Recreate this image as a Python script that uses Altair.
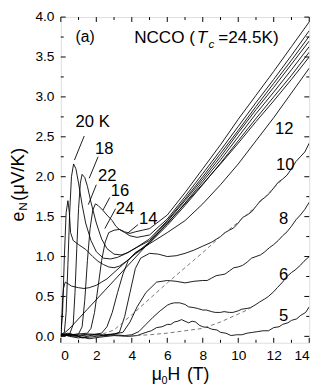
import altair as alt
import pandas as pd

FONT = "Liberation Sans"

# ---------------- data ----------------
H_5 = [0, 0.4, 1.0, 1.6, 2.2, 3.0, 3.8, 4.3, 4.8, 5.1, 5.4, 5.7, 6.0, 6.2, 6.4, 6.6, 6.8, 7.0, 7.2, 7.4, 7.6, 7.8, 8.0, 8.3, 8.5, 8.8, 9.0, 9.3, 9.6, 9.9, 10.2, 10.5, 10.8, 11.1, 11.4, 11.7, 12.0, 12.3, 12.5, 12.8, 13.0, 13.3, 13.5, 13.8, 14.0]
E_5 = [0.02, 0.04, 0.0, -0.03, -0.01, 0.01, 0.0, 0.01, 0.05, 0.07, 0.11, 0.12, 0.15, 0.15, 0.18, 0.19, 0.21, 0.19, 0.17, 0.19, 0.18, 0.14, 0.12, 0.11, 0.09, 0.08, 0.05, 0.04, 0.01, 0.02, 0.02, 0.04, 0.05, 0.06, 0.07, 0.07, 0.11, 0.12, 0.15, 0.17, 0.2, 0.22, 0.26, 0.3, 0.37]

H_6 = [0, 0.6, 1.2, 2.0, 3.0, 3.6, 4.0, 4.4, 4.8, 5.2, 5.6, 6.0, 6.2, 6.4, 6.7, 7.0, 7.2, 7.5, 7.7, 8.0, 8.2, 8.5, 8.7, 9.0, 9.2, 9.5, 9.7, 10.0, 10.2, 10.5, 10.7, 11.0, 11.2, 11.5, 11.7, 12.0, 12.2, 12.5, 12.7, 13.0, 13.2, 13.5, 13.7, 14.0]
E_6 = [0.01, 0.03, -0.02, 0.0, 0.02, 0.01, 0.02, 0.06, 0.15, 0.24, 0.32, 0.39, 0.41, 0.42, 0.42, 0.4, 0.37, 0.36, 0.35, 0.33, 0.33, 0.31, 0.3, 0.3, 0.31, 0.3, 0.3, 0.32, 0.34, 0.35, 0.36, 0.4, 0.43, 0.47, 0.5, 0.56, 0.61, 0.68, 0.74, 0.8, 0.83, 0.89, 0.94, 1.0]

H_8 = [0, 0.8, 1.6, 2.4, 3.0, 3.5, 3.9, 4.3, 4.8, 5.4, 6.0, 6.5, 7.0, 7.5, 8.0, 8.25, 8.5, 8.75, 9.0, 9.25, 9.5, 9.75, 10.0, 10.25, 10.5, 10.75, 11.0, 11.25, 11.5, 11.75, 12.0, 12.25, 12.5, 12.75, 13.0, 13.25, 13.5, 13.75, 14.0]
E_8 = [0.03, 0.01, 0.03, 0.02, 0.03, 0.05, 0.18, 0.37, 0.55, 0.68, 0.7, 0.69, 0.67, 0.69, 0.7, 0.7, 0.73, 0.76, 0.77, 0.78, 0.82, 0.86, 0.87, 0.89, 0.93, 0.98, 1.0, 1.02, 1.06, 1.11, 1.15, 1.2, 1.26, 1.31, 1.38, 1.46, 1.52, 1.59, 1.68]

H_10 = [0, 0.8, 1.6, 2.4, 3.0, 3.3, 3.6, 3.9, 4.2, 4.5, 5.0, 5.5, 6.0, 6.5, 7.0, 7.5, 8.0, 8.5, 9.0, 9.25, 9.5, 9.75, 10.0, 10.25, 10.5, 10.75, 11.0, 11.25, 11.5, 11.75, 12.0, 12.25, 12.5, 12.75, 13.0, 13.25, 13.5, 13.75, 14.0]
E_10 = [0.02, 0.0, 0.02, 0.01, 0.03, 0.05, 0.25, 0.55, 0.85, 0.98, 1.04, 1.03, 1.0, 1.01, 1.04, 1.08, 1.13, 1.18, 1.25, 1.3, 1.33, 1.36, 1.42, 1.49, 1.52, 1.56, 1.63, 1.7, 1.74, 1.79, 1.86, 1.93, 1.97, 2.02, 2.1, 2.19, 2.25, 2.31, 2.42]

H_12 = [0, 0.5, 1.0, 1.5, 2.0, 2.3, 2.6, 2.9, 3.2, 3.5, 3.8, 4.2, 4.6, 5, 6, 7, 8, 9, 10, 11, 12, 13, 14]
E_12 = [0.03, 0.0, -0.02, 0.0, 0.03, 0.04, 0.12, 0.3, 0.55, 0.78, 0.95, 1.05, 1.1, 1.16, 1.3, 1.45, 1.66, 1.9, 2.16, 2.45, 2.74, 3.05, 3.36]

H_14 = [0, 0.5, 1.0, 1.5, 1.7, 1.9, 2.1, 2.3, 2.5, 2.7, 3.0, 3.3, 3.6, 3.9, 4.2, 4.6, 5, 6, 7, 8, 9, 10, 11, 12, 13, 14]
E_14 = [0.02, 0.01, 0.03, 0.04, 0.1, 0.3, 0.62, 0.95, 1.18, 1.3, 1.33, 1.34, 1.31, 1.29, 1.31, 1.33, 1.35, 1.52, 1.8, 2.1, 2.4, 2.72, 3.02, 3.32, 3.63, 3.94]

H_16 = [0, 0.5, 1.0, 1.2, 1.35, 1.5, 1.65, 1.8, 1.95, 2.1, 2.37, 2.6, 2.9, 3.1, 3.3, 3.6, 3.9, 4.3, 5, 6, 7, 8, 9, 10, 11, 12, 13, 14]
E_16 = [0.01, 0.02, 0.03, 0.12, 0.45, 0.95, 1.35, 1.58, 1.66, 1.64, 1.58, 1.52, 1.45, 1.38, 1.34, 1.3, 1.26, 1.24, 1.27, 1.47, 1.75, 2.04, 2.33, 2.63, 2.93, 3.22, 3.52, 3.83]

H_18 = [0, 0.5, 0.7, 0.8, 0.9, 1.0, 1.1, 1.2, 1.35, 1.5, 1.7, 2.0, 2.3, 2.6, 3.0, 3.4, 3.8, 4.3, 5, 6, 7, 8, 9, 10, 11, 12, 13, 14]
E_18 = [0.02, 0.03, 0.15, 0.55, 1.1, 1.6, 1.92, 2.03, 1.99, 1.88, 1.68, 1.42, 1.22, 1.1, 1.03, 1.02, 1.05, 1.12, 1.22, 1.45, 1.72, 2.0, 2.29, 2.58, 2.88, 3.17, 3.46, 3.76]

H_20 = [0, 0.2, 0.3, 0.4, 0.5, 0.6, 0.72, 0.85, 1.0, 1.2, 1.4, 1.7, 2.0, 2.4, 2.8, 3.2, 3.6, 4.0, 4.5, 5, 6, 7, 8, 9, 10, 11, 12, 13, 14]
E_20 = [0.02, 0.05, 0.3, 0.9, 1.55, 2.0, 2.16, 2.1, 1.92, 1.65, 1.42, 1.2, 1.06, 0.98, 0.97, 0.99, 1.03, 1.08, 1.14, 1.2, 1.44, 1.7, 1.97, 2.25, 2.55, 2.84, 3.12, 3.41, 3.7]

H_22 = [0, 0.1, 0.2, 0.3, 0.4, 0.48, 0.55, 0.7, 1.0, 1.4, 1.8, 2.1, 2.4, 2.7, 3.0, 3.3, 3.7, 4.2, 5, 6, 7, 8, 9, 10, 11, 12, 13, 14]
E_22 = [0.0, 0.3, 1.0, 1.55, 1.7, 1.55, 1.3, 1.2, 1.15, 1.09, 1.0, 0.94, 0.9, 0.87, 0.86, 0.88, 0.94, 1.04, 1.18, 1.41, 1.67, 1.94, 2.21, 2.5, 2.79, 3.06, 3.34, 3.63]

H_24 = [0, 0.05, 0.1, 0.15, 0.25, 0.4, 0.6, 0.8, 1.0, 1.3, 1.6, 2.0, 2.3, 2.6, 3.0, 3.5, 4.0, 4.5, 5, 6, 7, 8, 9, 10, 11, 12, 13, 14]
E_24 = [0.0, 0.2, 0.45, 0.6, 0.68, 0.66, 0.63, 0.62, 0.61, 0.6, 0.61, 0.64, 0.68, 0.72, 0.8, 0.9, 1.0, 1.08, 1.17, 1.39, 1.64, 1.9, 2.17, 2.45, 2.73, 3.0, 3.27, 3.56]

H_hi = [0, 0.5, 1, 1.5, 2, 2.5, 3, 3.5, 4, 4.5, 5, 6, 7, 8, 9, 10, 11, 12, 13, 14]
E_hi = [0.0, 0.1, 0.22, 0.34, 0.46, 0.58, 0.7, 0.82, 0.94, 1.06, 1.18, 1.42, 1.66, 1.91, 2.16, 2.42, 2.69, 2.95, 3.22, 3.5]

# dashed background curves
H_dA = [2.0, 3.0, 4.0, 5.0, 6.0, 7.0, 8.0, 9.0, 10.0, 11.0, 12.0, 12.5]
E_dA = [0.0, 0.08, 0.27, 0.47, 0.67, 0.86, 1.05, 1.25, 1.43, 1.63, 1.86, 1.97]
H_dB = [3.5, 5.0, 6.0, 7.0, 8.0, 9.0, 9.5, 10.0, 10.5, 10.9]
E_dB = [0.0, 0.02, 0.04, 0.07, 0.1, 0.18, 0.23, 0.28, 0.33, 0.39]

# curve labels
LBL_T = ["20 K", "18", "22", "16", "24", "14", "12", "10", "8", "6", "5"]
LBL_H = [0.83, 1.93, 2.09, 2.81, 3.09, 4.41, 12.07, 12.13, 12.29, 12.29, 12.29]
LBL_E = [2.62, 2.28, 1.95, 1.76, 1.535, 1.41, 2.53, 2.08, 1.41, 0.71, 0.19]

# leader lines
LD_H1 = [1.32, 2.10, 2.00, 2.76, 3.09, 4.35]
LD_E1 = [2.51, 2.25, 1.90, 1.74, 1.60, 1.40]
LD_H2 = [0.77, 1.60, 1.55, 2.37, 2.48, 3.75]
LD_E2 = [2.21, 1.98, 1.65, 1.58, 1.35, 1.29]

X_TICKS = [0, 2, 4, 6, 8, 10, 12, 14]
X_MINOR = [1, 3, 5, 7, 9, 11, 13]
Y_TICKS = [0.0, 0.5, 1.0, 1.5, 2.0, 2.5, 3.0, 3.5, 4.0]
Y_MINOR = [0.25, 0.75, 1.25, 1.75, 2.25, 2.75, 3.25, 3.75]

# ---------------- build tables ----------------
curves = [("5", H_5, E_5), ("6", H_6, E_6), ("8", H_8, E_8), ("10", H_10, E_10),
          ("12", H_12, E_12), ("14", H_14, E_14), ("16", H_16, E_16), ("18", H_18, E_18),
          ("20", H_20, E_20), ("22", H_22, E_22), ("24", H_24, E_24), ("hi", H_hi, E_hi)]
rows = []
for name, hs, es in curves:
    for i, (h, e) in enumerate(zip(hs, es)):
        rows.append({"curve": name, "i": i, "H": h, "e": e})
df = pd.DataFrame(rows)

drows = []
for name, hs, es in [("A", H_dA, E_dA), ("B", H_dB, E_dB)]:
    for i, (h, e) in enumerate(zip(hs, es)):
        drows.append({"curve": name, "i": i, "H": h, "e": e})
ddf = pd.DataFrame(drows)

lbl = pd.DataFrame({"t": LBL_T, "H": LBL_H, "e": LBL_E})
lead = pd.DataFrame({"H1": LD_H1, "e1": LD_E1, "H2": LD_H2, "e2": LD_E2})

W, HT = 254, 333
xs = alt.Scale(domain=[0, 14], nice=False, zero=False)
ys = alt.Scale(domain=[-0.08, 4.0], nice=False, zero=False)

x_axis = alt.Axis(values=X_TICKS, format="d", title=None, ticks=False, domain=False, grid=False,
                  labelFont=FONT, labelFontSize=14, labelPadding=6, labelColor="black")
y_axis = alt.Axis(values=Y_TICKS, format=".1f", title=None, ticks=False, domain=False, grid=False,
                  labelFont=FONT, labelFontSize=14, labelPadding=7, labelColor="black")


def X(f):
    return alt.X(f, scale=xs, axis=x_axis)


def Y(f):
    return alt.Y(f, scale=ys, axis=y_axis)


lines = alt.Chart(df).mark_line(color="black", strokeWidth=0.9, clip=True).encode(
    x=X("H:Q"), y=Y("e:Q"), detail="curve:N", order="i:Q",
)

dashed = alt.Chart(ddf).mark_line(color="#666666", strokeWidth=0.9, strokeDash=[4, 3], clip=True).encode(
    x=X("H:Q"), y=Y("e:Q"), detail="curve:N", order="i:Q",
)

labels = alt.Chart(lbl).mark_text(align="left", baseline="alphabetic", font=FONT, fontSize=17,
                                  color="black").encode(
    x=X("H:Q"), y=Y("e:Q"), text="t:N",
)

leaders = alt.Chart(lead).mark_rule(color="black", strokeWidth=0.9).encode(
    x=X("H1:Q"), y=Y("e1:Q"), x2="H2:Q", y2="e2:Q",
)

# NCCO (T_c=24.5K) and (a)
TT_T = ["(a)", "NCCO (", "T", "c", "=24.5K)"]
TT_H = [0.83, 4.134, 7.66, 8.32, 8.875]
TT_E = [3.69, 3.674, 3.674, 3.61, 3.674]
TT_FS = [16, 17.5, 17.5, 12, 17.5]
TT_ST = ["normal", "normal", "italic", "italic", "normal"]
ttl_layers = []
for t, h, e, fs, st in zip(TT_T, TT_H, TT_E, TT_FS, TT_ST):
    ttl_layers.append(
        alt.Chart(pd.DataFrame({"t": [t], "H": [h], "e": [e]})).mark_text(
            align="left", baseline="alphabetic", font=FONT, fontSize=fs, fontStyle=st, color="black"
        ).encode(x=X("H:Q"), y=Y("e:Q"), text="t:N")
    )


# inward tick marks
def yticks(vals, ln):
    d = pd.DataFrame({"v": vals})
    left = alt.Chart(d).mark_rule(color="black", strokeWidth=1).encode(
        y=Y("v:Q"), x=alt.value(0), x2=alt.value(ln))
    right = alt.Chart(d).mark_rule(color="black", strokeWidth=1).encode(
        y=Y("v:Q"), x=alt.value(W), x2=alt.value(W - ln))
    return [left, right]


def xticks(vals, ln):
    d = pd.DataFrame({"v": vals})
    bot = alt.Chart(d).mark_rule(color="black", strokeWidth=1).encode(
        x=X("v:Q"), y=alt.value(HT), y2=alt.value(HT - ln))
    top = alt.Chart(d).mark_rule(color="black", strokeWidth=1).encode(
        x=X("v:Q"), y=alt.value(0), y2=alt.value(ln))
    return [bot, top]


tick_layers = yticks(Y_TICKS, 5) + yticks(Y_MINOR, 3) + xticks(X_TICKS, 5) + xticks(X_MINOR, 3)


# axis titles (with subscripts) as text
def txt(s, x, y, fs, angle=0):
    return alt.Chart(pd.DataFrame({"t": [s]})).mark_text(
        align="left", baseline="alphabetic", font=FONT, fontSize=fs, angle=angle, color="black"
    ).encode(x=alt.value(x), y=alt.value(y), text="t:N")


title_layers = [
    txt("e", -38, 209, 18, angle=270),
    txt("N", -35, 198, 12, angle=270),
    txt("(\u03bcV/K)", -38, 188, 19, angle=270),
    txt("\u03bc", 93, 371, 18),
    txt("0", 103, 375, 11),
    txt("H", 109, 371, 18),
    txt("(T)", 129, 371, 18),
]

chart = alt.layer(
    lines, dashed, leaders, labels, *ttl_layers, *tick_layers, *title_layers
).properties(
    width=W, height=HT,
    padding={"left": 54, "top": 5, "right": 10, "bottom": 43},
    autosize="none",
).configure_view(stroke="black", strokeWidth=1.2).configure(background="white")

chart.save("out.html", embed_options={"renderer": "svg", "actions": False})
